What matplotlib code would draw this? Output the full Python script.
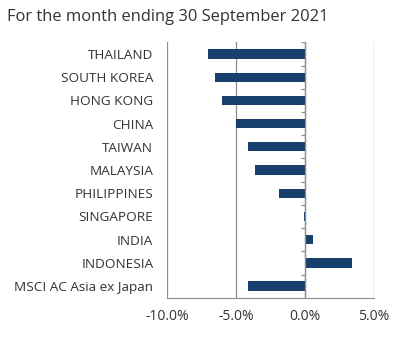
import matplotlib.pyplot as plt
import numpy as np

plt.rcParams['font.family'] = ['Open Sans', 'DejaVu Sans']

countries = ['THAILAND', 'SOUTH KOREA', 'HONG KONG', 'CHINA', 'TAIWAN', 'MALAYSIA',
             'PHILIPPINES', 'SINGAPORE', 'INDIA', 'INDONESIA', 'MSCI AC Asia ex Japan']
returns = [-7.0, -6.5, -6.0, -5.0, -4.1, -3.6, -1.9, -0.1, 0.6, 3.4, -4.1]
xticks = [-10, -5, 0, 5]

fig = plt.figure(figsize=(4.2, 3.42), dpi=100)
ax = fig.add_axes([0.398, 0.1295, 0.492, 0.7465])

y = np.arange(len(countries))
ax.barh(y, returns, height=0.4, color='#17406d', zorder=3)

ax.set_xlim(-10, 5)
ax.set_ylim(len(countries) - 0.5, -0.5)
ax.set_yticks(y)
ax.set_yticklabels(countries, fontsize=9.7)
ax.set_xticks(xticks)
ax.set_xticklabels([f'{v:.1f}%' for v in xticks], fontsize=10)
ax.tick_params(axis='both', length=0, colors='#333333')
ax.tick_params(axis='y', pad=10)
ax.tick_params(axis='x', pad=8)

for s in ['top', 'right', 'left']:
    ax.spines[s].set_visible(False)
ax.spines['bottom'].set_color('#8c8c8c')

ax.grid(axis='x', color='#8c8c8c', linewidth=0.9, zorder=0)
ax.set_axisbelow(True)

# zero axis with small ticks between categories
ax.axvline(0, color='#8c8c8c', linewidth=0.9, zorder=4)
bounds = np.arange(len(countries) + 1) - 0.5
ax.hlines(bounds[:-1], -0.3, 0, color='#8c8c8c', linewidth=0.9, zorder=4)

fig.text(0.017, 0.95, 'For the month ending 30 September 2021', fontsize=11.9,
         color='#333333', va='center', ha='left')

fig.savefig('out.png', dpi=100)
